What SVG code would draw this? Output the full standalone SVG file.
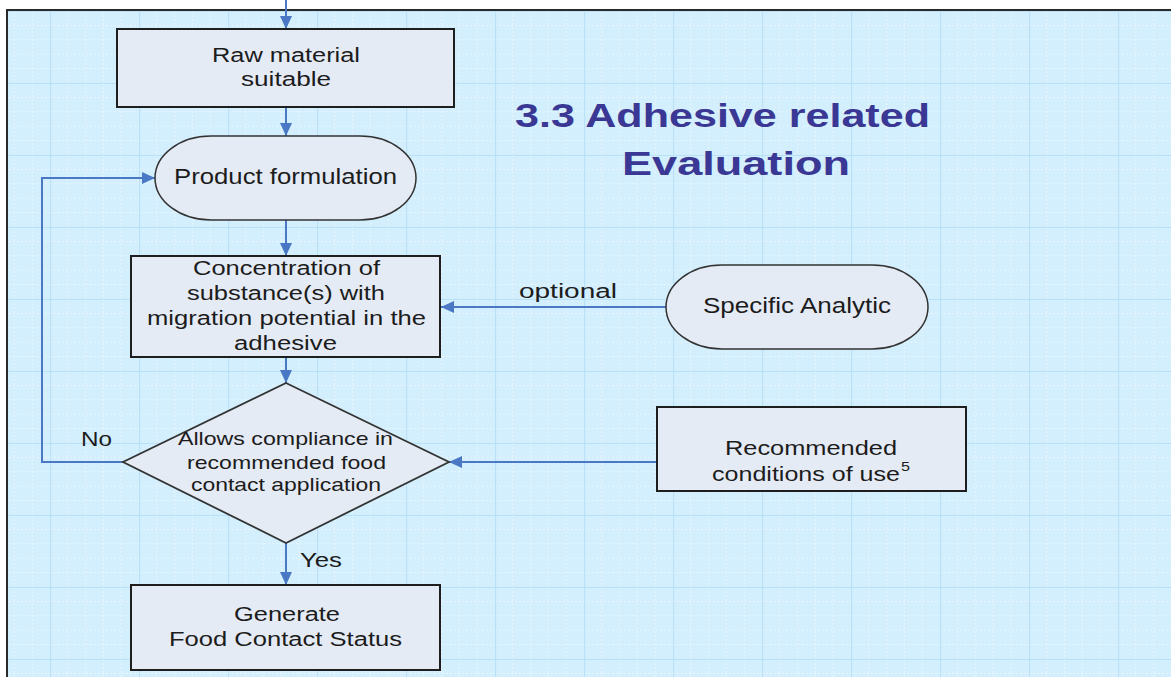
<svg xmlns="http://www.w3.org/2000/svg" width="1171" height="677" viewBox="0 0 1171 677">
  <defs>
    <pattern id="grid" patternUnits="userSpaceOnUse" x="50" y="11" width="89" height="72">
      <rect width="89" height="72" fill="#d3eefc"/>
      <g stroke="#ffffff" stroke-width="1" stroke-dasharray="2 2" opacity="0.5">
        <line x1="17.8" y1="0" x2="17.8" y2="72"/>
        <line x1="35.6" y1="0" x2="35.6" y2="72"/>
        <line x1="53.4" y1="0" x2="53.4" y2="72"/>
        <line x1="71.2" y1="0" x2="71.2" y2="72"/>
        <line x1="0" y1="14.4" x2="89" y2="14.4"/>
        <line x1="0" y1="28.8" x2="89" y2="28.8"/>
        <line x1="0" y1="43.2" x2="89" y2="43.2"/>
        <line x1="0" y1="57.6" x2="89" y2="57.6"/>
      </g>
      <g stroke="#b8e0f7" stroke-width="1.2">
        <line x1="0.5" y1="0" x2="0.5" y2="72"/>
        <line x1="0" y1="0.5" x2="89" y2="0.5"/>
      </g>
    </pattern>
    <marker id="arrow" markerUnits="userSpaceOnUse" markerWidth="13" markerHeight="12" refX="13" refY="6" orient="auto">
      <path d="M0,0 L13,6 L0,12 z" fill="#4a78c4"/>
    </marker>
    <style>
      .box { fill: #e5ebf5; stroke: #1e1e1e; stroke-width: 2; }
      .term { fill: #e5ebf5; stroke: #333333; stroke-width: 1.5; }
      .dec { fill: #e5ebf5; stroke: #333333; stroke-width: 1.8; }
      .conn { fill: none; stroke: #4a78c4; stroke-width: 2; marker-end: url(#arrow); }
      text { font-family: "Liberation Sans", Arial, sans-serif; fill: #1c1c1c; }
      .t20 { font-size: 20px; }
      .t22 { font-size: 22px; }
      .t18 { font-size: 18.5px; }
      .title { font-size: 34px; font-weight: bold; fill: #3a3894; }
    </style>
  </defs>

  <rect x="0" y="0" width="1171" height="677" fill="#ffffff"/>
  <rect id="frame" x="7" y="10" width="1180" height="690" fill="url(#grid)" stroke="#2a2a2a" stroke-width="2"/>

  <g id="title">
    <text class="title" x="515" y="127" textLength="415" lengthAdjust="spacingAndGlyphs">3.3 Adhesive related</text>
    <text class="title" x="622" y="175" textLength="228" lengthAdjust="spacingAndGlyphs">Evaluation</text>
  </g>

  <g id="connectors">
    <path class="conn" d="M286,0 V29"/>
    <path class="conn" d="M286,107 V136"/>
    <path class="conn" d="M286,220 V256"/>
    <path class="conn" d="M286,357 V383"/>
    <path class="conn" d="M286,543 V585"/>
    <path class="conn" d="M123,462 H42 V178 H155"/>
    <path class="conn" d="M666,307 H441"/>
    <path class="conn" d="M657,462 H449"/>
    <text class="t20" x="519" y="298" textLength="98" lengthAdjust="spacingAndGlyphs">optional</text>
    <text class="t20" x="81" y="446" textLength="31" lengthAdjust="spacingAndGlyphs">No</text>
    <text class="t20" x="300" y="567" textLength="42" lengthAdjust="spacingAndGlyphs">Yes</text>
  </g>

  <g id="raw-material">
    <rect class="box" x="117" y="29" width="337" height="78"/>
    <text class="t20" x="212" y="62" textLength="148" lengthAdjust="spacingAndGlyphs">Raw material</text>
    <text class="t20" x="241" y="86" textLength="90" lengthAdjust="spacingAndGlyphs">suitable</text>
  </g>

  <g id="product-formulation">
    <rect class="term" x="155" y="136" width="261" height="84" rx="56" ry="42"/>
    <text class="t22" x="174" y="184" textLength="223" lengthAdjust="spacingAndGlyphs">Product formulation</text>
  </g>

  <g id="concentration">
    <rect class="box" x="131" y="256" width="309" height="101"/>
    <text class="t20" x="193" y="275" textLength="187" lengthAdjust="spacingAndGlyphs">Concentration of</text>
    <text class="t20" x="187" y="300" textLength="198" lengthAdjust="spacingAndGlyphs">substance(s) with</text>
    <text class="t20" x="147" y="325" textLength="279" lengthAdjust="spacingAndGlyphs">migration potential in the</text>
    <text class="t20" x="234" y="350" textLength="103" lengthAdjust="spacingAndGlyphs">adhesive</text>
  </g>

  <g id="specific-analytic">
    <rect class="term" x="666" y="265" width="262" height="84" rx="56" ry="42"/>
    <text class="t22" x="703" y="313" textLength="188" lengthAdjust="spacingAndGlyphs">Specific Analytic</text>
  </g>

  <g id="compliance">
    <polygon class="dec" points="286,383 449,462 286,543 123,462"/>
    <text class="t18" x="178" y="445" textLength="215" lengthAdjust="spacingAndGlyphs">Allows compliance in</text>
    <text class="t18" x="187" y="469" textLength="199" lengthAdjust="spacingAndGlyphs">recommended food</text>
    <text class="t18" x="191" y="491" textLength="190" lengthAdjust="spacingAndGlyphs">contact application</text>
  </g>

  <g id="recommended-conditions">
    <rect class="box" x="657" y="407" width="309" height="84"/>
    <text class="t20" x="725" y="455" textLength="172" lengthAdjust="spacingAndGlyphs">Recommended</text>
    <text class="t20" x="712" y="481" textLength="188" lengthAdjust="spacingAndGlyphs">conditions of use</text>
    <text x="901" y="471" font-size="12" textLength="9" lengthAdjust="spacingAndGlyphs">5</text>
  </g>

  <g id="generate-status">
    <rect class="box" x="131" y="585" width="309" height="85"/>
    <text class="t20" x="234" y="621" textLength="106" lengthAdjust="spacingAndGlyphs">Generate</text>
    <text class="t20" x="169" y="646" textLength="233" lengthAdjust="spacingAndGlyphs">Food Contact Status</text>
  </g>
</svg>
